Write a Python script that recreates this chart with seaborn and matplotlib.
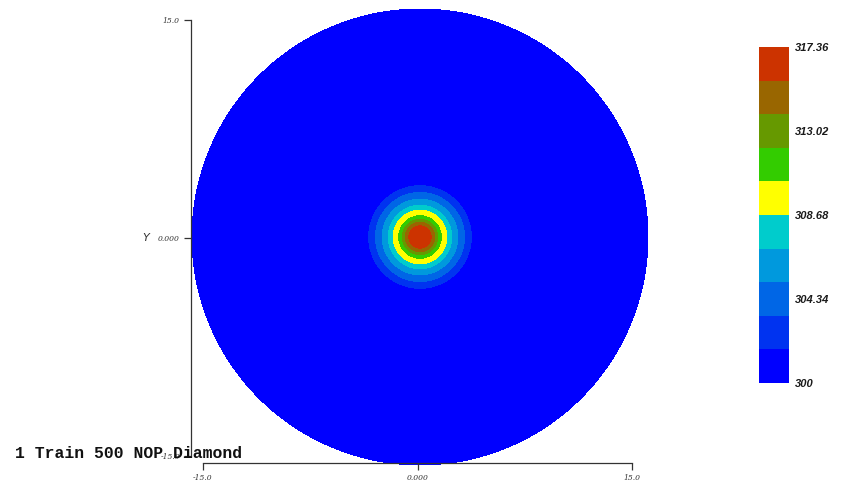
import numpy as np
import pandas as pd
import matplotlib
matplotlib.use("Agg")
import matplotlib.pyplot as plt
import seaborn as sns
from matplotlib.colors import ListedColormap

# radial temperature profile (r in plot units, T in K)
profile_r = [0.0, 0.77, 1.0, 1.2, 1.43, 1.8, 2.12, 2.52, 2.96, 3.4, 4.0, 15.0]
profile_t = [317.36, 315.62, 313.89, 312.15, 310.42, 308.68, 306.94, 305.21, 303.47, 301.74, 300.3, 300.0]

band_colors = ["#0000ff", "#0033f0", "#0066e6", "#0099dd", "#00cccc",
               "#ffff00", "#33cc00", "#669900", "#996600", "#cc3300"]
t_min, t_max = 300.0, 317.36
cbar_ticks = [300, 304.34, 308.68, 313.02, 317.36]
cbar_labels = ["300", "304.34", "308.68", "313.02", "317.36"]
disc_radius = 15.0
title = "1 Train 500 NOP Diamond"

sns.set_style("white")

n = 458
coords = np.linspace(-disc_radius, disc_radius, n)
xx, yy = np.meshgrid(coords, coords)
rr = np.hypot(xx, yy)
field = pd.DataFrame(np.interp(rr, profile_r, profile_t))
mask = rr > disc_radius

W, H = 842, 484
fig = plt.figure(figsize=(W / 100, H / 100), dpi=100)

# disc
ax = fig.add_axes([191 / W, (H - 466) / H, 458 / W, 458 / H])
cax = fig.add_axes([759 / W, (H - 383) / H, 30 / W, 336 / H])
sns.heatmap(field, mask=mask, cmap=ListedColormap(band_colors), vmin=t_min, vmax=t_max,
            xticklabels=False, yticklabels=False, ax=ax, cbar_ax=cax,
            cbar_kws={"ticks": cbar_ticks})
ax.set_xlabel("")
ax.set_ylabel("")
for s in ax.spines.values():
    s.set_visible(False)

cbar = ax.collections[0].colorbar
cbar.outline.set_visible(False)
cbar.set_ticks(cbar_ticks)
cbar.set_ticklabels(cbar_labels)
cax.tick_params(length=0, pad=4)
for lab in cax.get_yticklabels():
    lab.set_fontfamily("Liberation Sans")
    lab.set_fontstyle("italic")
    lab.set_fontweight("bold")
    lab.set_fontsize(8.0)
    lab.set_color("#1a1a1a")

# VisIt-style axes
ov = fig.add_axes([203 / W, (H - 456) / H, 429 / W, 436 / H])
ov.patch.set_alpha(0)
ov.set_xlim(-15, 15)
ov.set_ylim(-15, 15)
ov.spines["top"].set_visible(False)
ov.spines["right"].set_visible(False)
ov.spines["left"].set_position(("outward", 8.6))
ov.spines["bottom"].set_position(("outward", 5))
for s in ("left", "bottom"):
    ov.spines[s].set_color("#333333")
    ov.spines[s].set_linewidth(0.9)
ov.set_xticks([-15, 0, 15])
ov.set_xticklabels(["-15.0", "0.000", "15.0"])
ov.set_yticks([-15, 0, 15])
ov.set_yticklabels(["-15.0", "0.000", "15.0"])
ov.tick_params(axis="both", bottom=True, left=True, direction="out", length=5,
               width=0.9, color="#333333", pad=3, labelsize=5.5, labelcolor="#333333")
for lab in ov.get_xticklabels() + ov.get_yticklabels():
    lab.set_fontfamily("DejaVu Serif")
    lab.set_fontstyle("italic")
ov.text(-0.133, 0.5, "Y", transform=ov.transAxes, ha="center", va="center",
        fontsize=8, fontstyle="italic", color="#333333")

fig.text(15 / W, (H - 453) / H, title, ha="left", va="center",
         fontfamily="Liberation Mono", fontweight="bold", fontsize=11.8, color="#111111")

fig.savefig("out.png", dpi=100)
